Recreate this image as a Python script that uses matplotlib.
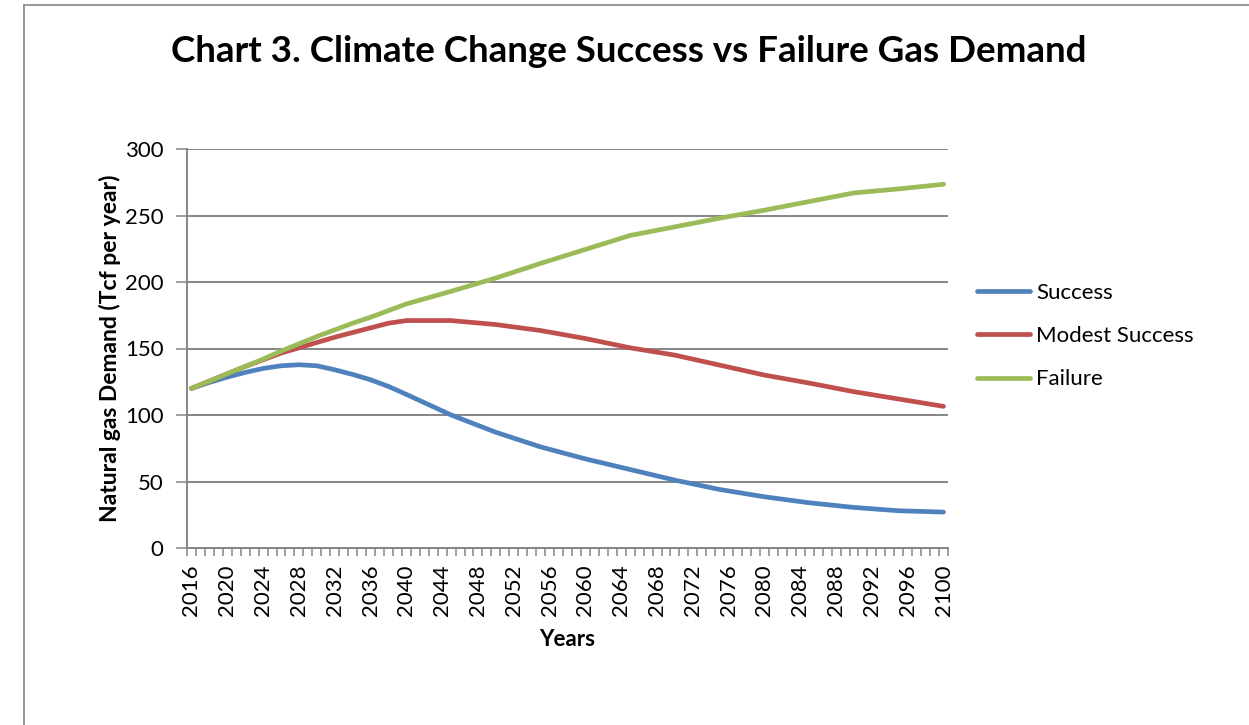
import matplotlib
matplotlib.use("Agg")
import matplotlib.pyplot as plt
from matplotlib.lines import Line2D

# Data
years = [2016, 2018, 2020, 2022, 2024, 2026, 2028, 2030, 2032, 2034, 2036, 2038, 2040,
         2045, 2050, 2055, 2060, 2065, 2070, 2075, 2080, 2085, 2090, 2095, 2100]
success = [120, 124.5, 128.5, 132, 135, 137, 137.8, 137, 134, 130.5, 126.5, 121.5, 115.5,
           100, 87, 76, 67, 59, 51, 44, 38.5, 34, 30.5, 28, 27]
modest = [120, 125.5, 131, 136.5, 141.5, 146.5, 150.5, 154.5, 158.5, 162, 165.5, 169, 171,
          171, 168, 163.5, 157.5, 150.5, 145, 137.5, 130, 124, 117.5, 112, 106.5]
failure = [120, 125.5, 131, 136.5, 142, 148, 153.5, 159, 164, 169, 173.5, 178.5, 183.5,
           193, 203, 214, 224.5, 235, 241.5, 248, 254, 260.5, 267, 270, 273.5]
series_names = ["Success", "Modest Success", "Failure"]
series_colors = ["#4F81BD", "#C0504D", "#9BBB59"]
label_years = list(range(2016, 2101, 4))
y_ticks = [0, 50, 100, 150, 200, 250, 300]

plt.rcParams['font.family'] = ['Lato', 'DejaVu Sans']

W, H = 1249, 725
fig = plt.figure(figsize=(W / 100, H / 100), dpi=100)
ax = fig.add_axes([187 / W, 1 - 548 / H, (948 - 187) / W, (548 - 149) / H])

for vals, name, col in zip([success, modest, failure], series_names, series_colors):
    ax.plot(years, vals, color=col, lw=3.4, label=name, solid_capstyle='round',
            solid_joinstyle='round', zorder=3)

ax.set_xlim(2015.5, 2100.5)
ax.set_ylim(0, 300)
ax.set_yticks(y_ticks)
ax.set_xticks(label_years)
ax.set_xticklabels([str(y) for y in label_years], rotation=90)
ax.set_xticks([y + 0.5 for y in range(2015, 2101)], minor=True)
ax.tick_params(axis='x', which='major', length=0, labelsize=16, pad=12)
ax.tick_params(axis='x', which='minor', length=6, width=1.1, color='#868686', direction='out')
ax.tick_params(axis='y', length=8, width=1.1, color='#868686', labelsize=16, pad=9)

ax.grid(axis='y', color='#868686', lw=1.4, zorder=0)
for s in ['top', 'right']:
    ax.spines[s].set_visible(False)
for s in ['left', 'bottom']:
    ax.spines[s].set_color('#868686')
    ax.spines[s].set_linewidth(1.4)

ax.set_ylabel("Natural gas Demand (Tcf per year)", fontsize=16.5, fontweight='bold', labelpad=3)
ax.set_xlabel("Years", fontsize=16, fontweight='bold', labelpad=9)

fig.text(629 / W, 1 - 51 / H, "Chart 3. Climate Change Success vs Failure Gas Demand",
         ha='center', va='center', fontsize=26.5, fontweight='bold')

leg = ax.legend(loc='center left', bbox_to_anchor=(957 / W, 1 - 336 / H),
                bbox_transform=fig.transFigure, frameon=False, fontsize=16,
                handlelength=2.4, handletextpad=0.25, labelspacing=1.05)

# Chart border
fig.add_artist(Line2D([24 / W, 24 / W], [0, 1 - 5 / H], color='#868686', lw=1.2))
fig.add_artist(Line2D([24 / W, 1], [1 - 5 / H, 1 - 5 / H], color='#868686', lw=1.2))

fig.savefig("out.png", dpi=100)
